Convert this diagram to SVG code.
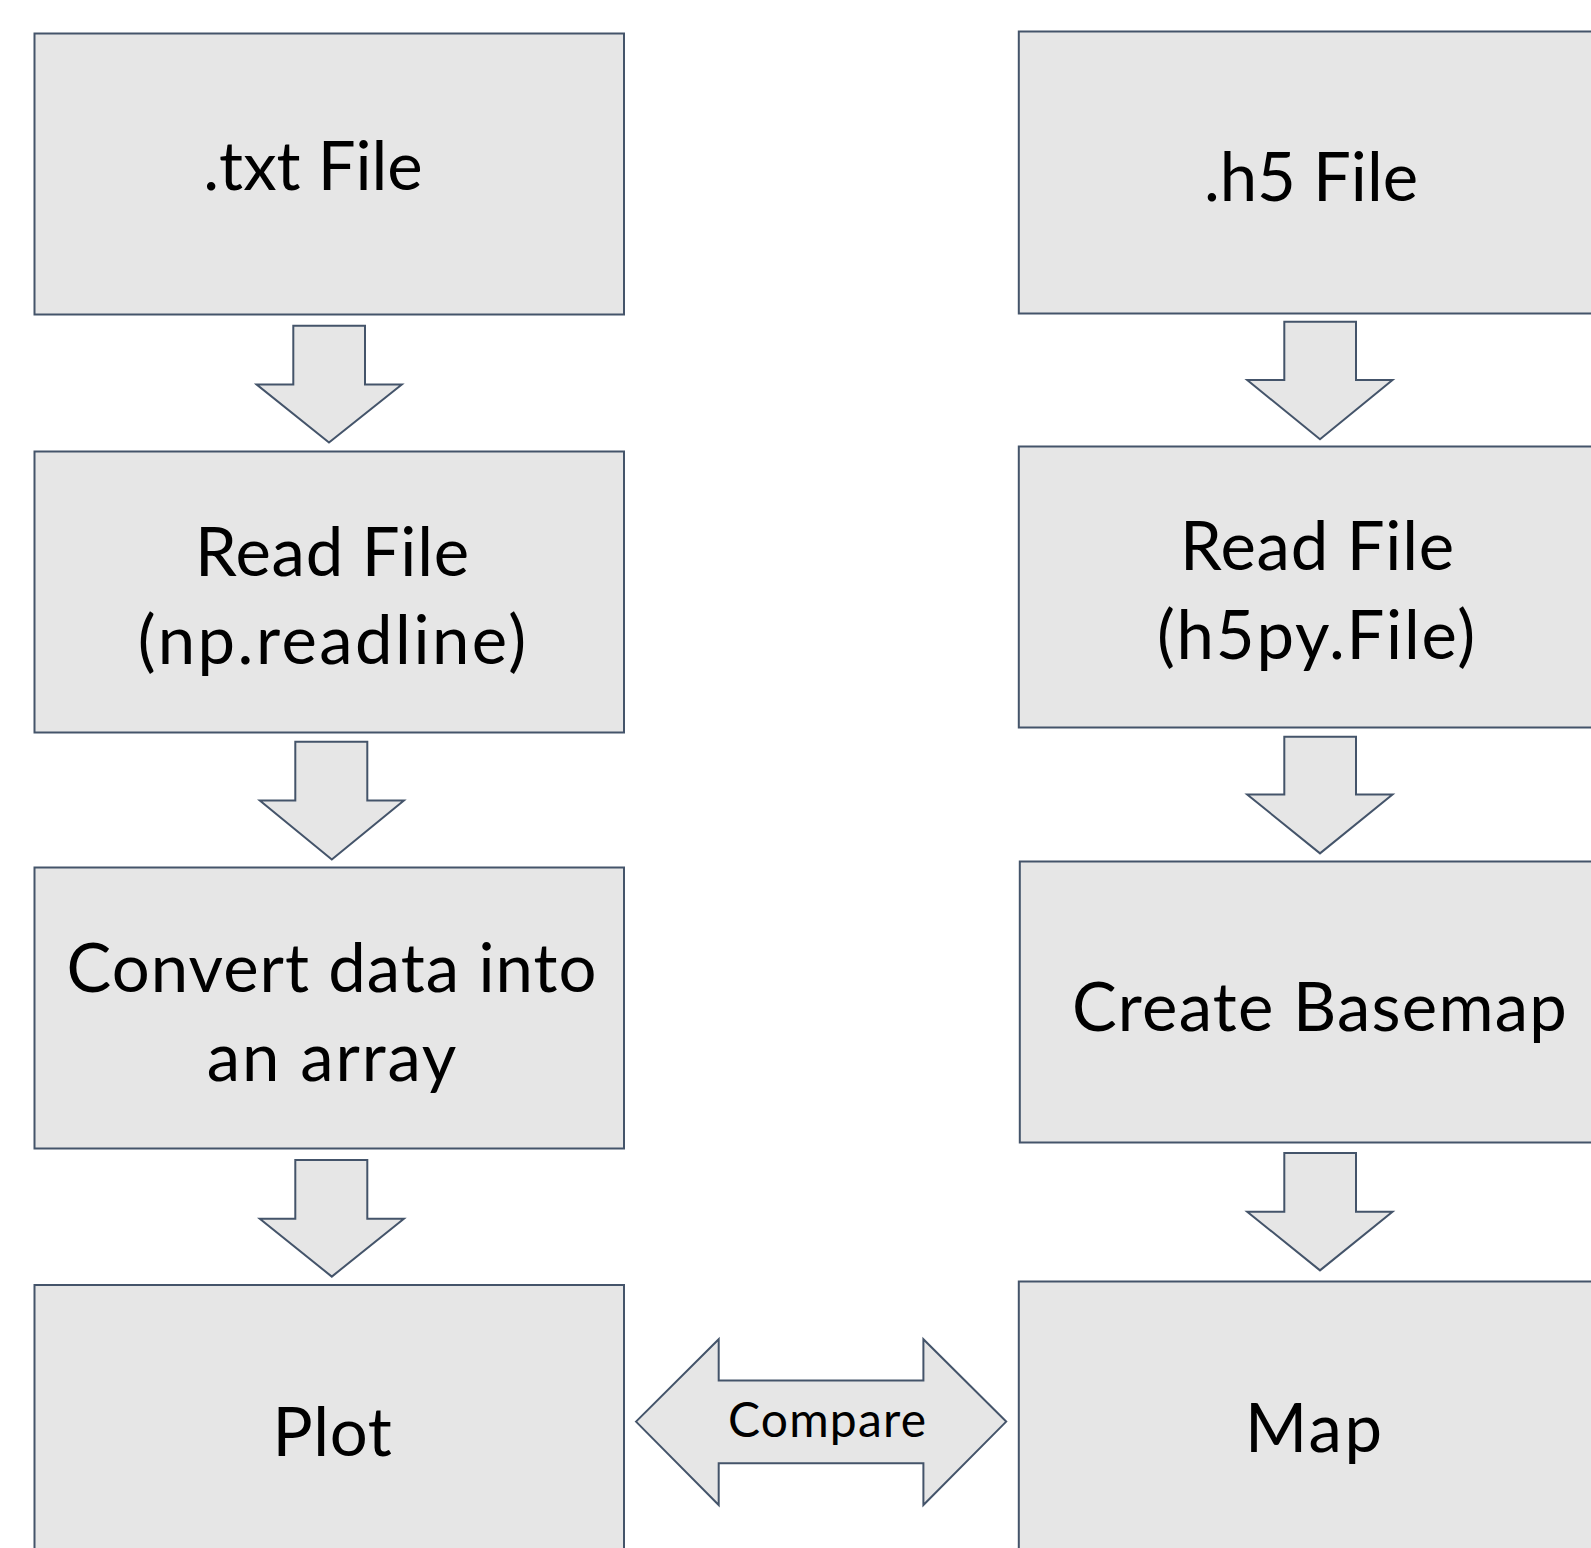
<svg xmlns="http://www.w3.org/2000/svg" width="1591" height="1548" viewBox="0 0 1591 1548">
  <style>
    .box { fill: #e6e6e6; stroke: #44546a; stroke-width: 2; }
    .arrow { fill: #e6e6e6; stroke: #44546a; stroke-width: 2; stroke-linejoin: miter; }
    .label { font-family: Lato, "Open Sans", "Liberation Sans", sans-serif; font-size: 67px; fill: #000; text-anchor: middle; }
    .small { font-size: 48px; }
  </style>
  <rect width="1591" height="1548" fill="#ffffff"/>

  <!-- left column: text file pipeline -->
  <g id="node-txt-file">
    <rect class="box" x="34.5" y="33.5" width="589.5" height="281"/>
    <text class="label" x="313" y="190">.txt File</text>
  </g>
  <g id="node-read-txt">
    <rect class="box" x="34.5" y="451.5" width="589.5" height="281"/>
    <text class="label" x="332.4" y="575.5" letter-spacing="0.75">Read File</text>
    <text class="label" x="333.2" y="664" letter-spacing="2.5">(np.readline)</text>
  </g>
  <g id="node-convert">
    <rect class="box" x="34.5" y="867.5" width="589.5" height="281"/>
    <text class="label" x="332" y="992" letter-spacing="1.05">Convert data into</text>
    <text class="label" x="332.5" y="1081" letter-spacing="1.9">an array</text>
  </g>
  <g id="node-plot">
    <rect class="box" x="34.5" y="1285" width="589.5" height="290"/>
    <text class="label" x="332.5" y="1456" letter-spacing="0.7">Plot</text>
  </g>

  <!-- right column: h5 file pipeline -->
  <g id="node-h5-file">
    <rect class="box" x="1018.8" y="31.5" width="589.5" height="282"/>
    <text class="label" x="1311" y="201">.h5 File</text>
  </g>
  <g id="node-read-h5">
    <rect class="box" x="1018.8" y="446.5" width="589.5" height="281"/>
    <text class="label" x="1317.4" y="570" letter-spacing="0.75">Read File</text>
    <text class="label" x="1316.9" y="659" letter-spacing="1.8">(h5py.File)</text>
  </g>
  <g id="node-basemap">
    <rect class="box" x="1019.8" y="861.5" width="589.5" height="281"/>
    <text class="label" x="1320.1" y="1031" letter-spacing="1.25">Create Basemap</text>
  </g>
  <g id="node-map">
    <rect class="box" x="1018.8" y="1281.5" width="589.5" height="290"/>
    <text class="label" x="1314.7" y="1452" letter-spacing="2.5">Map</text>
  </g>

  <!-- block-arrow connectors -->
  <g id="connectors">
    <polygon class="arrow" points="293.3,325.7 365,325.7 365,384.6 401.8,384.6 329,442.5 256.7,384.6 293.3,384.6"/>
    <polygon class="arrow" points="295.3,741.8 367.3,741.8 367.3,800.6 403.9,800.6 331.8,859.5 259.8,800.6 295.3,800.6"/>
    <polygon class="arrow" points="295.3,1160 367.3,1160 367.3,1218.7 403.9,1218.7 331.8,1276.6 259.8,1218.7 295.3,1218.7"/>
    <polygon class="arrow" points="1284.3,321.7 1356,321.7 1356,380 1392.5,380 1320,439.3 1247.2,380 1284.3,380"/>
    <polygon class="arrow" points="1284.3,736.7 1356,736.7 1356,794.5 1392.5,794.5 1320,853.4 1247.2,794.5 1284.3,794.5"/>
    <polygon class="arrow" points="1284.3,1153 1356,1153 1356,1211.7 1392.5,1211.7 1320,1270.4 1247.2,1211.7 1284.3,1211.7"/>
    <g id="compare">
      <polygon class="arrow" points="636,1421.6 718.7,1339.2 718.7,1380.5 923.4,1380.5 923.4,1339.2 1006.2,1421.6 923.4,1505 923.4,1463.2 718.7,1463.2 718.7,1505"/>
      <text class="label small" x="827.6" y="1436.7" letter-spacing="1.2">Compare</text>
    </g>
  </g>
</svg>
